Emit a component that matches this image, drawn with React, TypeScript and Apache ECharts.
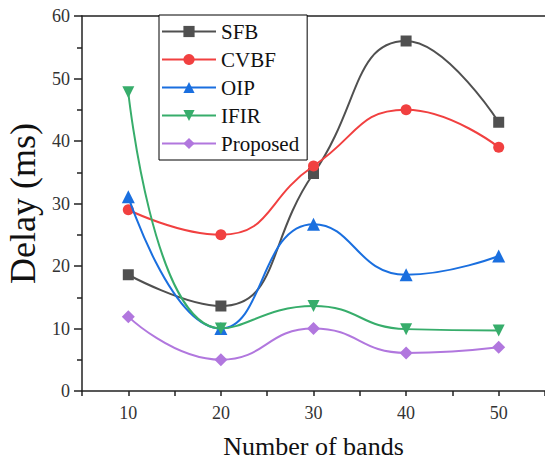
import React, { useEffect, useRef } from "react";
import * as echarts from "echarts";

const bands = [10, 20, 30, 40, 50];
const sfb = [18.6, 13.6, 34.8, 56, 43];
const cvbf = [29, 25, 36, 45, 39];
const oip = [31.1, 10, 26.7, 18.6, 21.6];
const ifir = [47.8, 10, 13.6, 9.9, 9.7];
const proposed = [11.9, 5, 10, 6.1, 7];
const seriesNames = ["SFB", "CVBF", "OIP", "IFIR", "Proposed"];
const colors = ["#505050", "#F14040", "#1A6FDF", "#37AD6B", "#B177DE"];
const symbols = ["rect", "circle", "triangle", "path://M0,0 L10,0 L5,9 Z", "diamond"];
const symbolSizes = [11, 11, 13, 12, 13];

const FONT = "Liberation Serif, Times New Roman, serif";

export default function App() {
  const ref = useRef<HTMLDivElement>(null);
  useEffect(() => {
    if (!ref.current) return;
    const chart = echarts.init(ref.current, undefined, { renderer: "svg" });
    const datasets = [sfb, cvbf, oip, ifir, proposed];
    chart.setOption({
      animation: false,
      textStyle: { fontFamily: FONT },
      grid: { left: 82, right: 0, top: 16, bottom: 70, containLabel: false, outerBoundsMode: "none" },
      legend: {
        orient: "vertical",
        left: 159,
        top: 15,
        width: 151,
        padding: [6, 8, 6, 2],
        borderColor: "#000",
        borderWidth: 1,
        backgroundColor: "#fff",
        itemWidth: 54,
        itemHeight: 14,
        itemGap: 7,
        textStyle: { fontFamily: FONT, fontSize: 21, color: "#111", lineHeight: 20 },
        data: seriesNames,
      },
      xAxis: [
        {
          type: "value",
          min: 5,
          max: 55,
          interval: 5,
          name: "Number of bands",
          nameLocation: "middle",
          nameGap: 42,
          nameTextStyle: { fontFamily: FONT, fontSize: 26, color: "#111" },
          axisLine: { show: true, lineStyle: { color: "#222", width: 1.5 } },
          axisTick: { show: true, inside: false, length: 5, lineStyle: { color: "#222", width: 1.5 } },
          minorTick: { show: false },
          axisLabel: {
            fontFamily: FONT,
            fontSize: 18,
            color: "#333",
            margin: 13,
            formatter: (v: number) => (v % 10 === 0 && v >= 10 && v <= 50 ? String(v) : ""),
          },
          splitLine: { show: false },
        },
        {
          type: "value",
          position: "top",
          min: 5,
          max: 55,
          axisLine: { show: true, lineStyle: { color: "#222", width: 1.5 } },
          axisTick: { show: false },
          axisLabel: { show: false },
          splitLine: { show: false },
        },
      ],
      yAxis: {
        type: "value",
        min: 0,
        max: 60,
        interval: 10,
        name: "Delay (ms)",
        nameLocation: "middle",
        nameGap: 41,
        nameTextStyle: { fontFamily: FONT, fontSize: 36, color: "#111" },
        axisLine: { show: true, lineStyle: { color: "#222", width: 1.5 } },
        axisTick: { show: true, inside: false, length: 8, lineStyle: { color: "#222", width: 1.5 } },
        minorTick: { show: true, splitNumber: 2, length: 5, lineStyle: { color: "#222", width: 1.5 } },
        axisLabel: { fontFamily: FONT, fontSize: 18, color: "#333", margin: 12 },
        splitLine: { show: false },
      },
      series: seriesNames.map((name, i) => ({
        name,
        type: "line",
        xAxisIndex: 0,
        smooth: 0.5,
        symbol: symbols[i],
        symbolSize: symbolSizes[i],
        showSymbol: true,
        data: bands.map((b, j) => [b, datasets[i][j]]),
        lineStyle: { color: colors[i], width: 2 },
        itemStyle: { color: colors[i] },
        z: 2 + i,
      })),
    });
    return () => chart.dispose();
  }, []);
  return <div ref={ref} style={{ width: 545, height: 461, position: "absolute", left: 0, top: 0 }} />;
}
